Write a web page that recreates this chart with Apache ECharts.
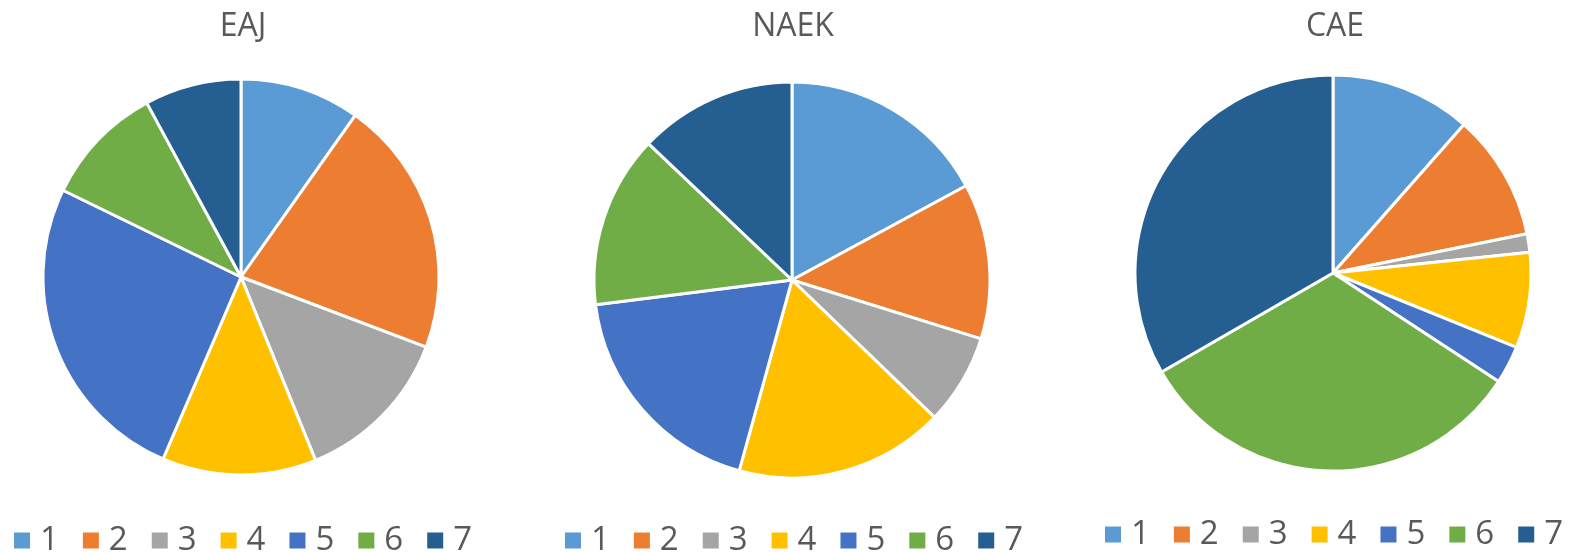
<!DOCTYPE html>
<html>
<head>
<meta charset="utf-8">
<script src="https://cdn.jsdelivr.net/npm/echarts@6/dist/echarts.min.js"></script>
<style>
  html, body { margin: 0; padding: 0; background: #fff; }
  #main { width: 1585px; height: 553px; }
</style>
</head>
<body>
<div id="main"></div>
<script>
var categories = ['1', '2', '3', '4', '5', '6', '7'];
var pieTitles = ['EAJ', 'NAEK', 'CAE'];
var eajValues = [9.8, 21.0, 13.1, 12.6, 25.8, 9.9, 7.9];
var naekValues = [17.1, 12.7, 7.4, 17.1, 18.7, 14.1, 12.9];
var caeValues = [11.5, 10.3, 1.5, 7.8, 3.1, 32.4, 33.3];
var colors = ['#5B9BD5', '#ED7D31', '#A5A5A5', '#FFC000', '#4472C4', '#70AD47', '#255E91'];

var allValues = [eajValues, naekValues, caeValues];
var centers = [[241, 277], [792, 280], [1333, 273]];
var titleX = [238, 788, 1330];
var legendLeft = [9, 560, 1100];
var legendTop = [519, 519, 513];

function toData(vals) {
    return categories.map(function (c, i) { return { name: c, value: vals[i] }; });
}

var myChart = echarts.init(document.getElementById('main'));
var option = {
    color: colors,
    title: pieTitles.map(function (t, i) {
        return {
            text: t, left: titleX[i], top: 6, textAlign: 'center',
            textStyle: { fontSize: 32, fontWeight: 'normal', color: '#595959', fontFamily: 'Open Sans' }
        };
    }),
    legend: pieTitles.map(function (t, i) {
        return {
            data: categories, left: legendLeft[i], top: legendTop[i],
            orient: 'horizontal', icon: 'rect', itemWidth: 16, itemHeight: 16, itemGap: 24,
            selectedMode: false,
            itemStyle: { borderWidth: 0 },
            textStyle: { fontSize: 33, color: '#595959', fontFamily: 'Open Sans', padding: [0, 0, 0, 5] }
        };
    }),
    series: allValues.map(function (vals, i) {
        return {
            name: pieTitles[i], type: 'pie', center: centers[i], radius: 198,
            startAngle: 90, clockwise: true, animation: false,
            label: { show: false }, labelLine: { show: false },
            itemStyle: { borderColor: '#fff', borderWidth: 3 },
            emphasis: { disabled: true },
            data: toData(vals)
        };
    })
};
myChart.setOption(option);
</script>
</body>
</html>
